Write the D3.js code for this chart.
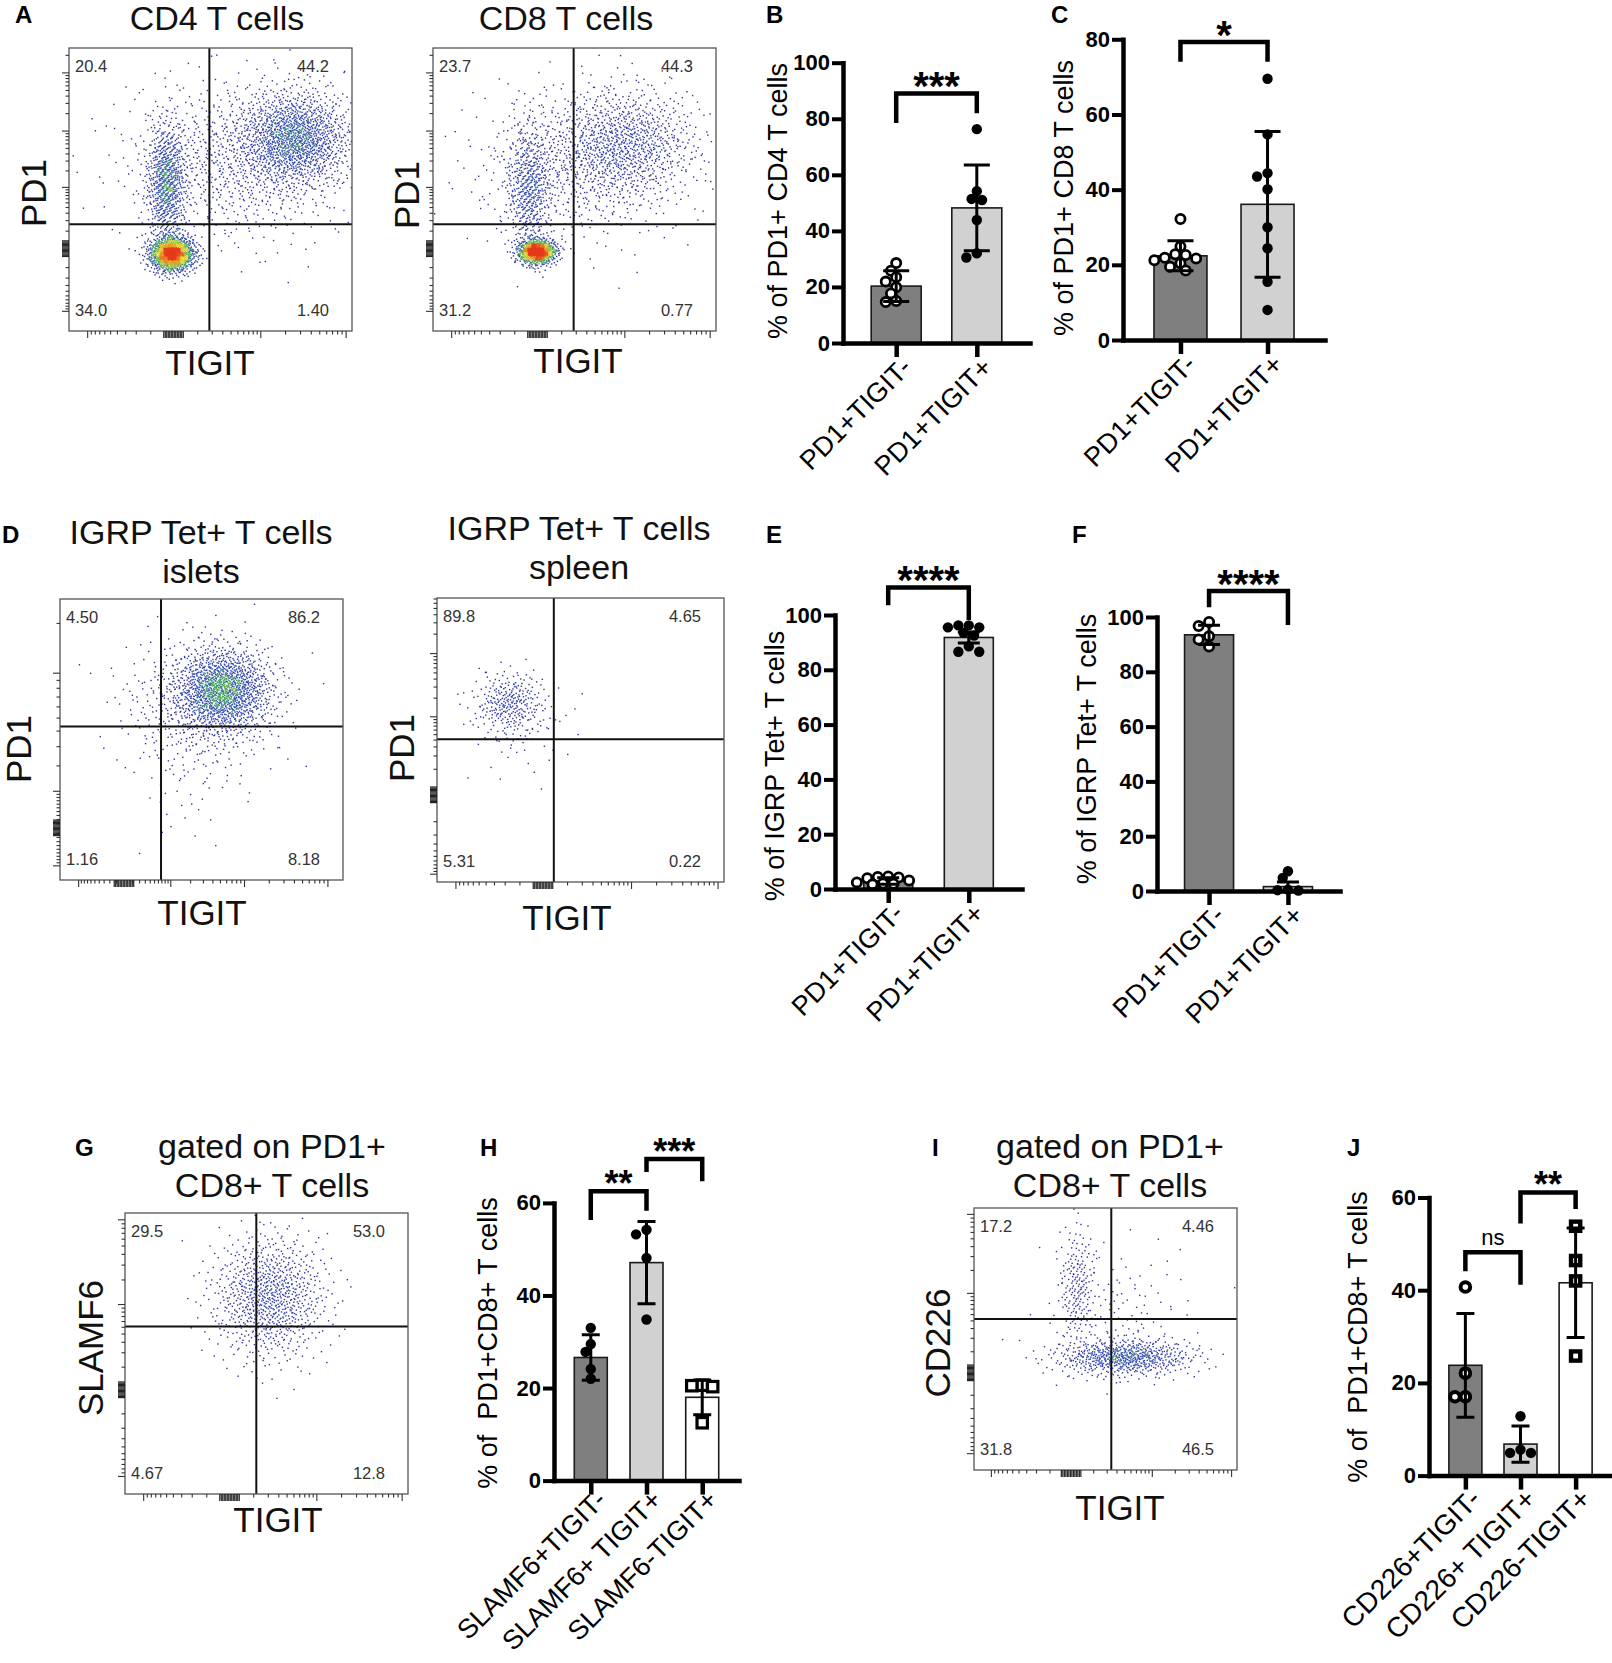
<!DOCTYPE html>
<html>
<head>
<meta charset="utf-8">
<script src="https://cdn.jsdelivr.net/npm/d3@7/dist/d3.min.js"></script>
<style>
body { margin: 0; background: #fff; }
text { font-family: "Liberation Sans", Arial, Helvetica, sans-serif; }
</style>
</head>
<body>
<svg id="fig" width="1612" height="1663"></svg>
<script>
// ---------- flow plots: quadrant % (UL, UR, LL, LR) ----------
var quadA1 = ["20.4", "44.2", "34.0", "1.40"]
var quadA2 = ["23.7", "44.3", "31.2", "0.77"]
var quadD1 = ["4.50", "86.2", "1.16", "8.18"]
var quadD2 = ["89.8", "4.65", "5.31", "0.22"]
var quadG = ["29.5", "53.0", "4.67", "12.8"]
var quadI = ["17.2", "4.46", "31.8", "46.5"]

// gate position, fraction of plot width / height
var gateA1 = [0.496, 0.377]
var gateA2 = [0.497, 0.377]
var gateD1 = [0.357, 0.546]
var gateD2 = [0.407, 0.503]
var gateG = [0.464, 0.596]
var gateI = [0.522, 0.576]

// cell populations seen on the dot plots: [x, y, spreadX, spreadY, events]
var cellsA1 = [[0.364, 0.272, 0.04, 0.032, 1100], [0.345, 0.52, 0.035, 0.11, 700], [0.8, 0.68, 0.1, 0.085, 1300], [0.6, 0.6, 0.2, 0.14, 900]]
var cellsA2 = [[0.368, 0.28, 0.033, 0.022, 800], [0.34, 0.5, 0.04, 0.12, 500], [0.68, 0.66, 0.13, 0.1, 900], [0.5, 0.58, 0.18, 0.14, 600]]
var cellsD1 = [[0.575, 0.676, 0.085, 0.075, 1300], [0.5, 0.62, 0.14, 0.12, 500], [0.45, 0.35, 0.1, 0.12, 40]]
var cellsD2 = [[0.253, 0.628, 0.06, 0.055, 280], [0.3, 0.55, 0.1, 0.1, 60]]
var cellsG = [[0.51, 0.7, 0.1, 0.11, 900]]
var cellsI = [[0.573, 0.43, 0.13, 0.035, 650], [0.393, 0.7, 0.035, 0.12, 200], [0.55, 0.6, 0.14, 0.13, 120]]

// biexponential-like display axes: [constant, min, max]
var axisA_x = [120, -1670, 11800]
var axisA_y = [95, -2330, 262000]
var axisD1_x = [400, -1893, 153000]
var axisD1_y = [1700, -1540, 27500]
var axisD2_y = [65, -1365, 71200]

var flowMajor = [-1000, 1000, 10000, 100000]
var flowMinor = [-100, 100, 200000]
    .concat(d3.range(2, 10).map(k => -k * 100))
    .concat(d3.range(2, 10).map(k => k * 100))
    .concat(d3.range(2, 10).map(k => k * 1000))
    .concat(d3.range(2, 10).map(k => k * 10000))

// ---------- bar charts ----------
var groupsPD1 = ["PD1+TIGIT-", "PD1+TIGIT+"]
var groupsSLAMF6 = ["SLAMF6+TIGIT-", "SLAMF6+ TIGIT+", "SLAMF6-TIGIT+"]
var groupsCD226 = ["CD226+TIGIT-", "CD226+ TIGIT+", "CD226-TIGIT+"]

var meanB = [20.3, 48.2]
var sdB = [5.5, 15.3]
var ptsB = [[28.5, 25.8, 23.5, 21.9, 19.9, 17.7, 15.0, 14.6], [76.3, 54.2, 51.4, 51.0, 43.9, 32.0, 30.5]]
var sigB = [[0, 1, 89, 78.5, 82, "***"]]

var meanC = [22.4, 36.1]
var sdC = [4.0, 19.4]
var ptsC = [[32.2, 24.9, 22.8, 22.6, 21.9, 21.7, 21.2, 20.4, 19.5, 18.5], [69.5, 54.7, 44.4, 43.5, 40.1, 30.0, 24.4, 15.5, 8.0]]
var sigC = [[0, 1, 79.3, 74, 74, "*"]]

var meanE = [2.9, 91.8]
var sdE = [1.2, 2.0]
var ptsE = [[4.6, 4.4, 4.2, 3.9, 3.1, 2.4, 2.0, 1.9, 1.7], [96.2, 96.2, 95.5, 95.5, 93.5, 92.5, 88.6, 86.6, 86.6]]
var sigE = [[0, 1, 110, 103.6, 98.2, "****"]]

var meanF = [93.5, 1.6]
var sdF = [3.5, 1.7]
var ptsF = [[98.2, 96.7, 93.0, 91.8, 89.2], [7.2, 4.8, 0.5, 0.3, 0.2]]
var sigF = [[0, 1, 109.5, 103.6, 97.1, "****"]]

var meanH = [26.6, 47.1, 18.0]
var sdH = [4.9, 8.9, 3.75]
var ptsH = [[33.0, 29.5, 27.8, 24.1, 22.0], [54.2, 53.2, 48.1, 34.8], [20.6, 20.5, 20.3, 12.5]]
var sigH = [[0, 1, 62.5, 56.3, 58.3, "**"], [1, 2, 69.5, 66.7, 64.7, "***"]]

var meanJ = [23.8, 6.8, 41.6]
var sdJ = [11.2, 3.9, 11.8]
var ptsJ = [[40.7, 22.1, 17.0, 17.0], [12.8, 5.6, 4.9, 4.9], [53.8, 46.4, 42.0, 25.8]]
var sigJ = [[0, 1, 48.2, 44.1, 41.2, "ns"], [1, 2, 61.1, 54.4, 57.5, "**"]]

var ticks100 = [0, 20, 40, 60, 80, 100]
var ticks80 = [0, 20, 40, 60, 80]
var ticks60 = [0, 20, 40, 60]

// ---------- layout ----------
var svg = d3.select("#fig")
svg.append("rect").attr("width", 1612).attr("height", 1663).attr("fill", "#fff")

var fontStack = "Liberation Sans, Arial, Helvetica, sans-serif"
var barGray = "#7f7f7f", barLight = "#d1d1d1", barWhite = "#ffffff"

var densityColor = d3.scaleLinear()
    .domain([1, 5, 8, 14, 24])
    .range(["#32329a", "#2f4cb0", "#3faa52", "#e6d62a", "#e63a1c"])
    .clamp(true)

var halton = (i, b) => {
    var f = 1, r = 0
    while (i > 0) { f = f / b; r += f * (i % b); i = Math.floor(i / b) }
    return r
}
// normal quantile (Tukey lambda approximation)
var probit = u => (Math.pow(u, 0.135) - Math.pow(1 - u, 0.135)) / 0.1975
var haltonBases = [[2, 3], [5, 7], [2, 3], [3, 5]]

var flowPanels = [
    {id: "A1", x: 69, y: 48, w: 283, h: 283, ax: axisA_x, ay: axisA_y, quad: quadA1, gate: gateA1, cells: cellsA1,
     title: ["CD4 T cells"], tx: 217, ty: [30], ylab: "PD1", yx: 33, yy: 193, xlab: "TIGIT", xx: 210, xy: 375},
    {id: "A2", x: 433, y: 48, w: 283, h: 283, ax: axisA_x, ay: axisA_y, quad: quadA2, gate: gateA2, cells: cellsA2,
     title: ["CD8 T cells"], tx: 566, ty: [30], ylab: "PD1", yx: 406, yy: 195, xlab: "TIGIT", xx: 578, xy: 373},
    {id: "D1", x: 60, y: 599, w: 283, h: 281, ax: axisD1_x, ay: axisD1_y, quad: quadD1, gate: gateD1, cells: cellsD1,
     title: ["IGRP Tet+ T cells", "islets"], tx: 201, ty: [544, 583], ylab: "PD1", yx: 18, yy: 749, xlab: "TIGIT", xx: 202, xy: 925},
    {id: "D2", x: 437, y: 598, w: 287, h: 284, ax: axisA_x, ay: axisD2_y, quad: quadD2, gate: gateD2, cells: cellsD2,
     title: ["IGRP Tet+ T cells", "spleen"], tx: 579, ty: [540, 579], ylab: "PD1", yx: 401, yy: 748, xlab: "TIGIT", xx: 567, xy: 930},
    {id: "G", x: 125, y: 1213, w: 283, h: 281, ax: axisA_x, ay: axisA_x, quad: quadG, gate: gateG, cells: cellsG,
     title: ["gated on PD1+", "CD8+ T cells"], tx: 272, ty: [1158, 1197], ylab: "SLAMF6", yx: 90, yy: 1348, xlab: "TIGIT", xx: 278, xy: 1532},
    {id: "I", x: 974, y: 1208, w: 263, h: 262, ax: axisA_x, ay: axisA_x, quad: quadI, gate: gateI, cells: cellsI,
     title: ["gated on PD1+", "CD8+ T cells"], tx: 1110, ty: [1158, 1197], ylab: "CD226", yx: 937, yy: 1343, xlab: "TIGIT", xx: 1120, xy: 1520}
]

var barPanels = [
    {id: "B", groups: groupsPD1, mean: meanB, sd: sdB, pts: ptsB, sig: sigB, ticks: ticks100, max: 100,
     marks: ["open", "filled"], fills: [barGray, barLight],
     x0: 843, x1: 1030, y0: 343, yTop: 62.7, bw: 50, cap: 13, star: 40, lab: 27, labDy: 26,
     ylab: "% of PD1+ CD4 T cells", yx: 777, yy: 201},
    {id: "C", groups: groupsPD1, mean: meanC, sd: sdC, pts: ptsC, sig: sigC, ticks: ticks80, max: 80,
     marks: ["open", "filled"], fills: [barGray, barLight],
     x0: 1123, x1: 1325, y0: 340, yTop: 39.3, bw: 53, cap: 13, star: 40, lab: 27, labDy: 26,
     ylab: "% of PD1+ CD8 T cells", yx: 1063, yy: 198},
    {id: "E", groups: groupsPD1, mean: meanE, sd: sdE, pts: ptsE, sig: sigE, ticks: ticks100, max: 100,
     marks: ["open", "filled"], fills: [barGray, barLight],
     x0: 835, x1: 1022, y0: 889, yTop: 615, bw: 49, cap: 11, star: 40, lab: 27, labDy: 26,
     ylab: "% of IGRP Tet+ T cells", yx: 774, yy: 766},
    {id: "F", groups: groupsPD1, mean: meanF, sd: sdF, pts: ptsF, sig: sigF, ticks: ticks100, max: 100,
     marks: ["open", "filled"], fills: [barGray, barLight],
     x0: 1157, x1: 1340, y0: 891, yTop: 617, bw: 49, cap: 11, star: 40, lab: 27, labDy: 26,
     ylab: "% of IGRP Tet+ T cells", yx: 1086, yy: 749},
    {id: "H", groups: groupsSLAMF6, mean: meanH, sd: sdH, pts: ptsH, sig: sigH, ticks: ticks60, max: 60,
     marks: ["filled", "filled", "square"], fills: [barGray, barLight, barWhite],
     x0: 554, x1: 739, y0: 1480.6, yTop: 1202.9, bw: 33, cap: 9, star: 36, lab: 27, labDy: 21,
     ylab: "% of  PD1+CD8+ T cells", yx: 487, yy: 1343},
    {id: "J", groups: groupsCD226, mean: meanJ, sd: sdJ, pts: ptsJ, sig: sigJ, ticks: ticks60, max: 60,
     marks: ["ring", "filled", "squareThick"], fills: [barGray, barLight, barWhite],
     x0: 1429, x1: 1612, y0: 1475.6, yTop: 1197.5, bw: 33, cap: 9, star: 36, lab: 28, labDy: 25,
     ylab: "% of  PD1+CD8+ T cells", yx: 1357, yy: 1337}
]

var panelLetters = [["A", 15, 23], ["B", 766, 23], ["C", 1051, 23], ["D", 2, 543], ["E", 766, 543],
    ["F", 1072, 543], ["G", 75, 1156], ["H", 480, 1156], ["I", 932, 1156], ["J", 1347, 1156]]

// ---------- flow plot ----------
var drawFlow = (p) => {
    var g = svg.append("g").attr("class", "flow")
    var fx = d3.scaleLinear().domain([0, 1]).range([p.x, p.x + p.w])
    var fy = d3.scaleLinear().domain([0, 1]).range([p.y + p.h, p.y])

    svg.append("clipPath").attr("id", `clip_${p.id}`)
        .append("rect").attr("x", p.x).attr("y", p.y).attr("width", p.w).attr("height", p.h)

    // events from the populations, spread with a halton sequence
    var events = []
    p.cells.forEach((c, ci) => {
        var b = haltonBases[ci % haltonBases.length]
        for (var i = 1; i <= c[4]; i++) {
            var k = i + 1500 * ci + 20
            var ex = fx(c[0] + c[2] * probit(halton(k, b[0])))
            var ey = fy(c[1] + c[3] * probit(halton(k, b[1])))
            if (ex > p.x && ex < p.x + p.w && ey > p.y && ey < p.y + p.h) events.push({x: ex, y: ey})
        }
    })
    // pseudo-colour by local density
    var bins = {}
    events.forEach(e => {
        e.key = Math.floor(e.x / 4) + "_" + Math.floor(e.y / 4)
        bins[e.key] = (bins[e.key] || 0) + 1
    })
    events.forEach(e => { e.n = bins[e.key] })
    events.sort((a, b) => a.n - b.n)

    g.append("g").attr("clip-path", `url(#clip_${p.id})`)
        .selectAll("rect").data(events).enter().append("rect")
        .attr("x", d => d.x - 0.7).attr("y", d => d.y - 0.7)
        .attr("width", 1.4).attr("height", 1.4)
        .attr("fill", d => densityColor(d.n))

    // gates
    g.append("line").attr("x1", fx(p.gate[0])).attr("x2", fx(p.gate[0]))
        .attr("y1", p.y).attr("y2", p.y + p.h).attr("stroke", "#111").attr("stroke-width", 2)
    g.append("line").attr("x1", p.x).attr("x2", p.x + p.w)
        .attr("y1", fy(p.gate[1])).attr("y2", fy(p.gate[1])).attr("stroke", "#111").attr("stroke-width", 2)

    g.append("rect").attr("x", p.x).attr("y", p.y).attr("width", p.w).attr("height", p.h)
        .attr("fill", "none").attr("stroke", "#555").attr("stroke-width", 1.3)

    // biex ticks
    var sx = d3.scaleSymlog().constant(p.ax[0]).domain([p.ax[1], p.ax[2]]).range([p.x, p.x + p.w])
    var sy = d3.scaleSymlog().constant(p.ay[0]).domain([p.ay[1], p.ay[2]]).range([p.y + p.h, p.y])
    var inX = v => v > p.ax[1] && v < p.ax[2]
    var inY = v => v > p.ay[1] && v < p.ay[2]
    var tickAxis = (axis, vals, size) => {
        var a = g.append("g").call(axis.tickValues(vals).tickSize(size).tickSizeOuter(0).tickFormat(""))
        a.select(".domain").remove()
        a.selectAll(".tick line").attr("stroke", "#333").attr("stroke-width", 1.1)
        return a
    }
    tickAxis(d3.axisBottom(sx), flowMajor.filter(inX), 7).attr("transform", `translate(0,${p.y + p.h})`)
    tickAxis(d3.axisBottom(sx), flowMinor.filter(inX), 3.5).attr("transform", `translate(0,${p.y + p.h})`)
    tickAxis(d3.axisLeft(sy), flowMajor.filter(inY), 7).attr("transform", `translate(${p.x},0)`)
    tickAxis(d3.axisLeft(sy), flowMinor.filter(inY), 3.5).attr("transform", `translate(${p.x},0)`)
    // the dense block of ticks round zero
    var zx = sx(0), zy = sy(0)
    d3.range(-10, 10.1, 1.5).forEach(d => {
        g.append("line").attr("x1", zx + d).attr("x2", zx + d).attr("y1", p.y + p.h).attr("y2", p.y + p.h + 7)
            .attr("stroke", "#222").attr("stroke-width", 1.2)
        g.append("line").attr("y1", zy + d * 0.8).attr("y2", zy + d * 0.8).attr("x1", p.x).attr("x2", p.x - 7)
            .attr("stroke", "#222").attr("stroke-width", 1.2)
    })

    // quadrant numbers
    var qpos = [[p.x + 6, p.y + 24, "start"], [p.x + p.w - 23, p.y + 24, "end"],
        [p.x + 6, p.y + p.h - 15, "start"], [p.x + p.w - 23, p.y + p.h - 15, "end"]]
    g.selectAll(".quad").data(p.quad).enter().append("text")
        .attr("x", (d, i) => qpos[i][0]).attr("y", (d, i) => qpos[i][1])
        .attr("text-anchor", (d, i) => qpos[i][2])
        .attr("font-size", 16.5).attr("fill", "#333").text(d => d)

    // titles and axis names
    p.title.forEach((t, i) => {
        g.append("text").attr("x", p.tx).attr("y", p.ty[i]).attr("text-anchor", "middle")
            .attr("font-size", 34).attr("fill", "#111").text(t)
    })
    g.append("text").attr("transform", `translate(${p.yx},${p.yy}) rotate(-90)`)
        .attr("text-anchor", "middle").attr("dy", "0.36em").attr("font-size", 35).attr("fill", "#111").text(p.ylab)
    g.append("text").attr("x", p.xx).attr("y", p.xy).attr("text-anchor", "middle")
        .attr("font-size", 35).attr("fill", "#111").text(p.xlab)
}

// ---------- bar chart ----------
var swarm = (vals, cx, y, r) => {
    var placed = []
    return vals.map(v => {
        var py = y(v), px = cx
        for (var k = 0; k < 14; k++) {
            var off = (k % 2 ? -1 : 1) * Math.ceil(k / 2) * r * 0.95
            var hit = placed.some(q => Math.hypot(q[0] - (cx + off), q[1] - py) < r * 1.45)
            if (!hit) { px = cx + off; break }
        }
        placed.push([px, py])
        return [px, py]
    })
}

var drawMark = (g, kind, px, py) => {
    if (kind == "open") {
        g.append("circle").attr("cx", px).attr("cy", py).attr("r", 4.6)
            .attr("fill", "#fff").attr("stroke", "#000").attr("stroke-width", 2.8)
    } else if (kind == "ring") {
        g.append("circle").attr("cx", px).attr("cy", py).attr("r", 4.8)
            .attr("fill", "#fff").attr("stroke", "#000").attr("stroke-width", 4)
    } else if (kind == "square") {
        g.append("rect").attr("x", px - 5.2).attr("y", py - 5.2).attr("width", 10.4).attr("height", 10.4)
            .attr("fill", "#fff").attr("stroke", "#000").attr("stroke-width", 3.2)
    } else if (kind == "squareThick") {
        g.append("rect").attr("x", px - 4.6).attr("y", py - 4.6).attr("width", 9.2).attr("height", 9.2)
            .attr("fill", "#fff").attr("stroke", "#000").attr("stroke-width", 4.4)
    } else {
        g.append("circle").attr("cx", px).attr("cy", py).attr("r", 5.2).attr("fill", "#000")
    }
}

var drawBars = (p) => {
    var g = svg.append("g").attr("class", "bars")
    var y = d3.scaleLinear().domain([0, p.max]).range([p.y0, p.yTop])
    var x = d3.scalePoint().domain(p.groups).range([p.x0, p.x1]).padding(0.66)

    g.selectAll(".bar").data(p.groups).enter().append("rect")
        .attr("x", d => x(d) - p.bw / 2).attr("width", p.bw)
        .attr("y", (d, i) => y(p.mean[i])).attr("height", (d, i) => p.y0 - y(p.mean[i]))
        .attr("fill", (d, i) => p.fills[i]).attr("stroke", "#1a1a1a").attr("stroke-width", 1.6)

    p.groups.forEach((grp, i) => {
        swarm(p.pts[i], x(grp), y, 5.5).forEach(q => drawMark(g, p.marks[i], q[0], q[1]))
    })

    // mean +- SD
    p.groups.forEach((grp, i) => {
        var cx = x(grp), lo = y(p.mean[i] - p.sd[i]), hi = y(p.mean[i] + p.sd[i])
        g.append("path")
            .attr("d", `M${cx},${lo}V${hi}M${cx - p.cap},${hi}H${cx + p.cap}M${cx - p.cap},${lo}H${cx + p.cap}`)
            .attr("fill", "none").attr("stroke", "#000").attr("stroke-width", 3)
    })

    var ya = g.append("g").attr("transform", `translate(${p.x0},0)`)
        .call(d3.axisLeft(y).tickValues(p.ticks).tickSize(11).tickSizeOuter(0).tickPadding(2))
    ya.attr("font-family", fontStack).attr("font-size", 22).attr("font-weight", "bold")
    ya.select(".domain").attr("stroke-width", 4.5).attr("stroke-linecap", "square")
    ya.selectAll(".tick line").attr("stroke-width", 4)
    ya.selectAll(".tick text").attr("fill", "#000")

    var xa = g.append("g").attr("transform", `translate(0,${p.y0})`)
        .call(d3.axisBottom(x).tickSize(14).tickSizeOuter(0).tickFormat(""))
    xa.select(".domain").attr("stroke-width", 4.5).attr("stroke-linecap", "square")
    xa.selectAll(".tick line").attr("stroke-width", 4.5)

    g.selectAll(".xlab").data(p.groups).enter().append("text")
        .attr("transform", d => `translate(${x(d) + 17},${p.y0 + p.labDy}) rotate(-45)`)
        .attr("text-anchor", "end").attr("font-size", p.lab).attr("fill", "#000")
        .style("white-space", "pre").text(d => d)

    g.append("text").attr("transform", `translate(${p.yx},${p.yy}) rotate(-90)`)
        .attr("text-anchor", "middle").attr("dy", "0.36em").attr("font-size", 27)
        .style("white-space", "pre").text(p.ylab)

    // significance brackets
    p.sig.forEach(s => {
        var xl = x(p.groups[s[0]]), xr = x(p.groups[s[1]])
        g.append("path").attr("d", `M${xl},${y(s[3])}V${y(s[2])}H${xr}V${y(s[4])}`)
            .attr("fill", "none").attr("stroke", "#000").attr("stroke-width", 4.5)
        if (s[5] == "ns") {
            g.append("text").attr("x", (xl + xr) / 2).attr("y", y(s[2]) - 7).attr("text-anchor", "middle")
                .attr("font-family", "Liberation Serif, Times New Roman, serif").attr("font-size", 22).text(s[5])
        } else {
            g.append("text").attr("x", (xl + xr) / 2).attr("y", y(s[2]) - 11 + 0.44 * p.star)
                .attr("text-anchor", "middle").attr("font-weight", "bold").attr("font-size", p.star).text(s[5])
        }
    })
}

flowPanels.forEach(drawFlow)
barPanels.forEach(drawBars)

svg.selectAll(".letter").data(panelLetters).enter().append("text")
    .attr("x", d => d[1]).attr("y", d => d[2])
    .attr("font-size", 24).attr("font-weight", "bold").text(d => d[0])
</script>
</body>
</html>
